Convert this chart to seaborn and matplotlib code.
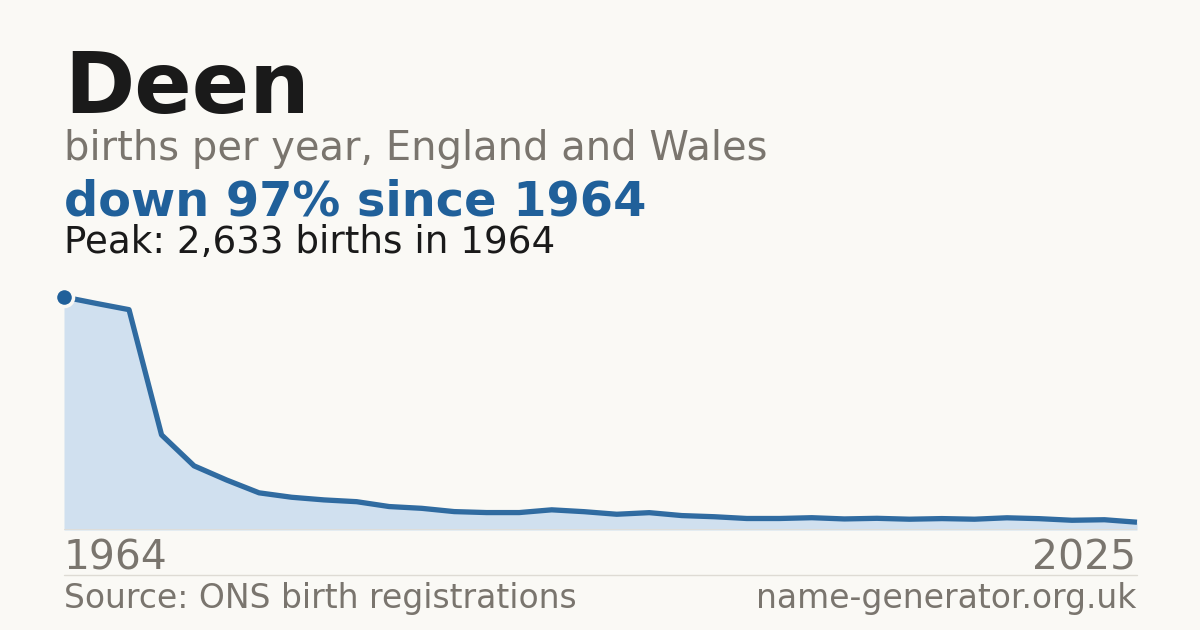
import numpy as np
import pandas as pd
import seaborn as sns
from matplotlib import pyplot as plt

# ONS releases: decadal to 1994, then yearly
years = [1964, 1974, 1984, 1994, 1996, 1997, 1998, 1999, 2000, 2001,
         2002, 2003, 2004, 2005, 2006, 2007, 2008, 2009, 2010, 2011,
         2012, 2013, 2014, 2015, 2016, 2017, 2018, 2019, 2020, 2021,
         2022, 2023, 2024, 2025]
births = [2633, 2560, 2490, 1075, 725, 565, 420, 370, 340, 320,
          265, 245, 208, 197, 197, 228, 207, 178, 196, 163,
          150, 130, 130, 139, 125, 132, 122, 129, 122, 138,
          128, 110, 116, 88]

BG = "#faf9f5"
BLUE = "#20609a"
FILL = "#d0e0ef"
GREY = "#7a756e"
INK = "#1a1a1a"

df = pd.DataFrame({"year": years, "births": births})
df["pos"] = range(len(df))

sns.set_theme(style="white")
plt.rcParams["font.family"] = ["DejaVu Sans"]

fig = plt.figure(figsize=(12, 6.3), dpi=100, facecolor=BG)
W, H = 1200, 630

def fy(px):
    return 1 - px / H

ax = fig.add_axes([64 / W, fy(530), (1137 - 64) / W, (530 - 297) / H])
ax.set_facecolor(BG)

ax.fill_between(df["pos"], df["births"], 0, color=FILL, lw=0, zorder=1)
sns.lineplot(data=df, x="pos", y="births", ax=ax, color=BLUE, lw=3.8, alpha=0.92,
             solid_capstyle="butt", zorder=3, clip_on=False)
ax.plot(df["pos"].iloc[0], df["births"].iloc[0], "o", ms=13, color=BLUE,
        mec=BG, mew=2.5, zorder=4, clip_on=False)
ax.axhline(0, color="#e0ddd6", lw=1.2, zorder=2)

ax.set_xlim(0, len(df) - 1)
ax.set_ylim(0, max(births))
ax.set_axis_off()

# header
fig.text(64 / W, fy(113), "Deen", fontsize=61, fontweight="bold", color=INK, va="baseline")
fig.text(64 / W, fy(160), "births per year, England and Wales", fontsize=28.8, color=GREY, va="baseline")
drop = round(100 * (1 - births[-1] / max(births)))
fig.text(64 / W, fy(215), f"down {drop}% since {years[0]}", fontsize=34.5, fontweight="bold",
         color=BLUE, va="baseline")
peak_i = int(np.argmax(births))
fig.text(64 / W, fy(253), f"Peak: {max(births):,} births in {years[peak_i]}", fontsize=26.8,
         color=INK, va="baseline")

# axis end labels
fig.text(64 / W, fy(570), str(years[0]), fontsize=29.4, color=GREY, va="baseline")
fig.text(1136 / W, fy(570), str(years[-1]), fontsize=29.4, color=GREY, va="baseline", ha="right")

# footer
fig.add_artist(plt.Line2D([64 / W, 1137 / W], [fy(574.5), fy(574.5)], color="#dedbd4", lw=1))
fig.text(64 / W, fy(608), "Source: ONS birth registrations", fontsize=23.8, color=GREY, va="baseline")
fig.text(1136 / W, fy(608), "name-generator.org.uk", fontsize=23.8, color=GREY, va="baseline", ha="right")

fig.savefig("out.png", dpi=100, facecolor=BG)
